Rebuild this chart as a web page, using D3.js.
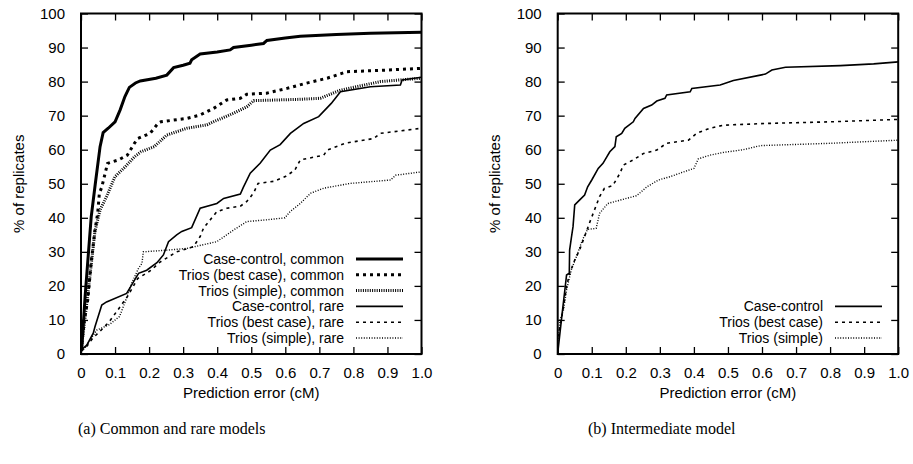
<!DOCTYPE html>
<html>
<head>
<meta charset="utf-8">
<script src="https://cdn.jsdelivr.net/npm/d3@7"></script>
<style>
  body { margin: 0; background: #fff; }
  text { font-family: "Liberation Sans", Arial, sans-serif; fill: #000; }
</style>
</head>
<body>
<svg></svg>
<script>
const width = 913
const height = 464
const svg = d3.select('svg')
  .attr('width', width)
  .attr('height', height)
  .style("background", "#fff");

// tick values
const xTicks = [0, 0.1, 0.2, 0.3, 0.4, 0.5, 0.6, 0.7, 0.8, 0.9, 1.0];
const yTicks = [0, 10, 20, 30, 40, 50, 60, 70, 80, 90, 100];

// (a) common and rare models, [error cM, % replicates]
const ccCommon = [[0,1],[0.002,1.2],[0.012,16.8],[0.021,28.6],[0.03,40.3],[0.042,50],[0.056,60.9],[0.065,65],[0.08,66.3],[0.1,68.2],[0.115,71.7],[0.129,75.6],[0.142,78.3],[0.16,79.6],[0.174,80.2],[0.22,81],[0.252,81.9],[0.272,84.1],[0.3,84.8],[0.32,85.4],[0.325,86.4],[0.35,88.1],[0.4,88.7],[0.438,89.3],[0.448,90],[0.5,90.7],[0.536,91.2],[0.546,92.1],[0.6,92.8],[0.644,93.3],[0.75,93.8],[0.85,94.2],[1.0,94.5]];
const bestCommon = [[0,1],[0.01,10],[0.02,16],[0.03,27],[0.041,36.4],[0.049,41.3],[0.054,47.2],[0.061,49],[0.078,56],[0.11,57],[0.136,58.4],[0.157,61.9],[0.167,63.3],[0.203,64.8],[0.226,67.7],[0.235,68.2],[0.311,69.2],[0.35,70.2],[0.389,72.1],[0.428,74.6],[0.468,75.1],[0.487,76.3],[0.545,76.6],[0.605,78],[0.66,79.5],[0.723,81],[0.781,82.9],[0.88,83.3],[1.0,83.9]];
const simpleCommon = [[0,1],[0.01,9],[0.026,22.7],[0.041,36],[0.056,42.3],[0.075,46.2],[0.085,48.6],[0.1,52.1],[0.13,55],[0.157,57.9],[0.176,59.4],[0.215,60.9],[0.252,64.3],[0.311,66.3],[0.37,67.3],[0.389,68.2],[0.448,70.7],[0.487,72.6],[0.507,74.4],[0.644,74.8],[0.703,75.1],[0.762,77.5],[0.879,80],[1.0,81]];
const ccRare = [[0,1.2],[0.017,2.6],[0.036,6.1],[0.041,8],[0.061,14.4],[0.075,15.3],[0.134,17.8],[0.149,20.3],[0.169,23.7],[0.193,24.6],[0.223,26.8],[0.242,29.1],[0.257,33],[0.281,35],[0.296,36],[0.325,37.1],[0.35,42.8],[0.399,44.2],[0.419,45.7],[0.468,47],[0.477,49],[0.497,53.1],[0.526,56],[0.556,59.9],[0.585,61.5],[0.615,64.8],[0.654,67.7],[0.698,69.7],[0.735,73.6],[0.762,77],[0.85,78.5],[0.938,79],[0.943,80.5],[1.0,81.3]];
const bestRare = [[0,1],[0.013,1.7],[0.034,4.6],[0.059,7],[0.083,9.5],[0.108,12.9],[0.137,17],[0.167,22.2],[0.206,24.6],[0.232,27],[0.281,30],[0.33,31.5],[0.35,34.5],[0.36,37],[0.399,41.8],[0.428,42.8],[0.468,43.4],[0.487,44.8],[0.507,47.3],[0.52,50.1],[0.566,50.7],[0.6,52.1],[0.628,54],[0.644,57],[0.713,58.4],[0.723,59.9],[0.776,61.9],[0.86,63.3],[0.879,64.8],[1.0,66.3]];
const simpleRare = [[0,1],[0.01,1.5],[0.046,7],[0.083,8.6],[0.113,11],[0.132,15.9],[0.149,20.8],[0.169,25.2],[0.179,26.6],[0.183,30],[0.252,30.5],[0.311,31],[0.399,33],[0.448,36.4],[0.487,38.9],[0.545,39.4],[0.599,40],[0.614,41.8],[0.644,44.2],[0.674,47.2],[0.713,48.7],[0.791,50.1],[0.909,51.1],[0.924,52.5],[1.0,53.5]];

// (b) intermediate model
const ccInter = [[0,0.2],[0.012,11],[0.021,18.8],[0.026,23.2],[0.034,23.7],[0.035,30.5],[0.04,34],[0.045,37.4],[0.05,43.8],[0.064,45.2],[0.079,46.7],[0.088,49.1],[0.1,51.1],[0.119,54.5],[0.133,56],[0.153,59.4],[0.168,60.9],[0.172,63.8],[0.188,64.8],[0.197,66.3],[0.222,68.2],[0.227,69.2],[0.252,72.1],[0.276,73.1],[0.291,74.3],[0.315,75.1],[0.32,76.1],[0.389,77],[0.394,78],[0.477,79],[0.516,80.3],[0.595,81.9],[0.61,82.2],[0.629,83.4],[0.669,84.2],[0.83,84.7],[0.928,85.2],[1.0,85.8]];
const bestInter = [[0,5],[0.007,8],[0.017,13.9],[0.026,19.8],[0.035,23.7],[0.05,27.6],[0.064,30.5],[0.079,34.5],[0.093,38.4],[0.108,42.3],[0.123,46.2],[0.137,48.6],[0.162,49.5],[0.183,53.1],[0.193,55.5],[0.222,57],[0.252,58.9],[0.291,59.9],[0.32,61.9],[0.384,62.8],[0.408,64.8],[0.447,66.3],[0.487,67.2],[0.61,67.7],[0.806,68.2],[1.0,68.9]];
const simpleInter = [[0,3],[0.007,10],[0.017,12.9],[0.026,18.8],[0.04,24.7],[0.055,28.6],[0.069,32.5],[0.079,34.9],[0.088,36.6],[0.113,36.9],[0.123,41.3],[0.147,44.2],[0.191,45.4],[0.232,46.5],[0.262,49.1],[0.296,51.1],[0.331,52.1],[0.37,53.5],[0.4,54.5],[0.413,57.3],[0.447,58.4],[0.487,59.2],[0.545,60],[0.596,61.2],[0.806,61.9],[1.0,62.8]];

const namesA = ["Case-control, common", "Trios (best case), common", "Trios (simple), common",
                "Case-control, rare", "Trios (best case), rare", "Trios (simple), rare"];
const namesB = ["Case-control", "Trios (best case)", "Trios (simple)"];

const styleThick = [{w: 3, dash: null}, {w: 3, dash: "3,4"}, {w: 3, dash: "1,1.3"}];
const styleThin = [{w: 1.6, dash: null}, {w: 1.6, dash: "3,4"}, {w: 1.4, dash: "1,1.6"}];

function panel(left, top, size, id, series, names, styles, legendRight, legendY) {
  const x = d3.scaleLinear().domain([0, 1]).range([left, left + size]);
  const y = d3.scaleLinear().domain([0, 100]).range([top + size, top]);
  const g = svg.append("g");

  g.append("clipPath").attr("id", id)
    .append("rect").attr("x", left).attr("y", top).attr("width", size).attr("height", size);

  const line = d3.line().x(d => x(d[0])).y(d => y(d[1]));

  series.forEach(function(s, i) {
    g.append("path")
      .datum(s)
      .attr("clip-path", "url(#" + id + ")")
      .attr("d", line)
      .attr("fill", "none")
      .attr("stroke", "#000")
      .attr("stroke-width", styles[i].w)
      .attr("stroke-dasharray", styles[i].dash);
  });

  // axes, gnuplot style: inward ticks mirrored on all sides
  const tk = 7;
  g.append("g").attr("transform", "translate(0," + (top + size) + ")")
    .call(d3.axisBottom(x).tickValues(xTicks).tickSizeInner(-tk).tickSizeOuter(0)
      .tickFormat(d => d === 0 ? "0" : d3.format(".1f")(d)).tickPadding(13));
  g.append("g").attr("transform", "translate(0," + top + ")")
    .call(d3.axisTop(x).tickValues(xTicks).tickSizeInner(-tk).tickSizeOuter(0).tickFormat(""));
  g.append("g").attr("transform", "translate(" + left + ",0)")
    .call(d3.axisLeft(y).tickValues(yTicks).tickSizeInner(-tk).tickSizeOuter(0).tickPadding(16));
  g.append("g").attr("transform", "translate(" + (left + size) + ",0)")
    .call(d3.axisRight(y).tickValues(yTicks).tickSizeInner(-tk).tickSizeOuter(0).tickFormat(""));

  g.selectAll(".domain").remove();
  g.selectAll(".tick line").attr("stroke", "#000").attr("stroke-width", 1.3);
  g.selectAll(".tick text").style("font-size", "15px").style("font-family", "Liberation Sans, Arial, sans-serif");

  g.append("rect")
    .attr("x", left).attr("y", top).attr("width", size).attr("height", size)
    .attr("fill", "none").attr("stroke", "#000").attr("stroke-width", 2);

  // legend
  names.forEach(function(n, i) {
    const ly = legendY[i];
    g.append("text")
      .attr("x", legendRight).attr("y", ly)
      .attr("text-anchor", "end")
      .attr("dominant-baseline", "central")
      .style("font-size", "14px")
      .text(n);
    g.append("line")
      .attr("x1", legendRight + 12).attr("x2", legendRight + 59)
      .attr("y1", ly).attr("y2", ly)
      .attr("stroke", "#000")
      .attr("stroke-width", styles[i].w)
      .attr("stroke-dasharray", styles[i].dash);
  });

  g.append("text")
    .attr("x", left + size / 2).attr("y", top + size + 44)
    .attr("text-anchor", "middle")
    .style("font-size", "15px")
    .text("Prediction error (cM)");

  g.append("text")
    .attr("transform", "translate(" + (left - 63) + "," + (top + size / 2) + ") rotate(-90)")
    .attr("text-anchor", "middle")
    .attr("dominant-baseline", "central")
    .style("font-size", "15px")
    .text("% of replicates");
}

panel(81, 13.5, 340.5, "clipA",
  [ccCommon, bestCommon, simpleCommon, ccRare, bestRare, simpleRare],
  namesA, styleThick.concat(styleThin), 344, [259, 274.8, 290.6, 306.4, 322.2, 338]);

panel(557.7, 13.5, 340.5, "clipB",
  [ccInter, bestInter, simpleInter],
  namesB, styleThin, 823, [306.4, 322.2, 338]);

svg.append("text").attr("x", 78).attr("y", 434)
  .style("font-family", "Liberation Serif, Times New Roman, serif")
  .style("font-size", "16px")
  .text("(a) Common and rare models");
svg.append("text").attr("x", 588).attr("y", 434)
  .style("font-family", "Liberation Serif, Times New Roman, serif")
  .style("font-size", "16px")
  .text("(b) Intermediate model");
</script>
</body>
</html>
